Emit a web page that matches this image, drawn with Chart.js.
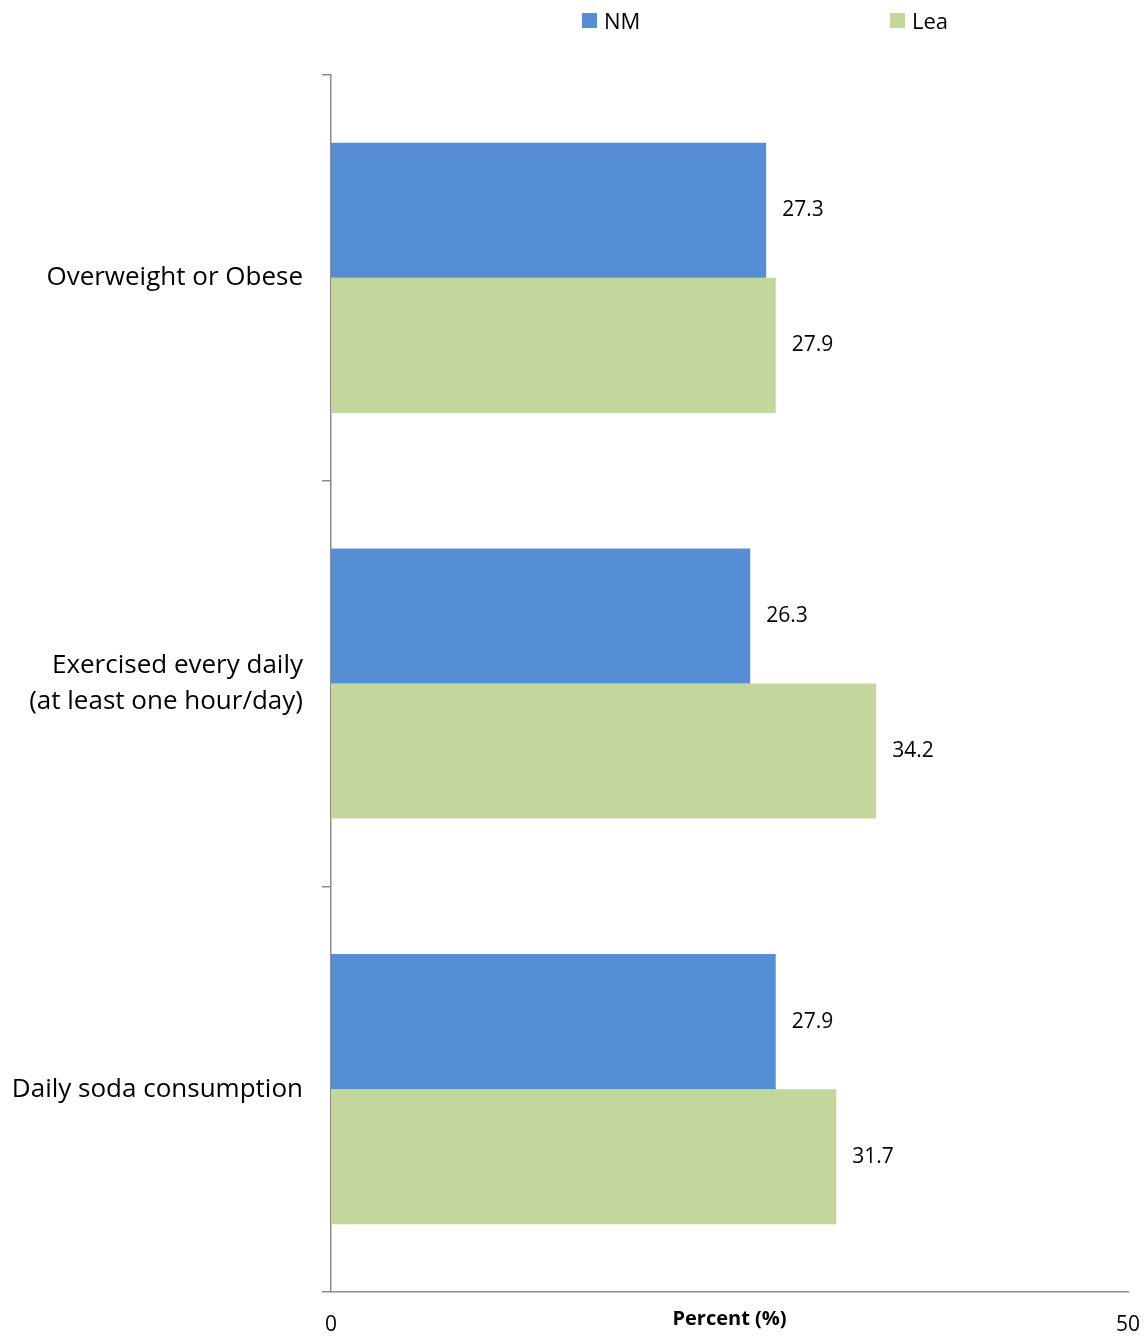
<!DOCTYPE html>
<html>
<head>
<meta charset="utf-8">
<script src="https://cdn.jsdelivr.net/npm/chart.js@4/dist/chart.umd.min.js"></script>
<style>
  body { margin: 0; background: #fff; }
  #wrap { position: relative; width: 1148px; height: 1336px; }
  #myChart { position: absolute; left: 0; top: 0; }
  .legend-item { position: absolute; top: 6px; font: 22px "Open Sans", sans-serif; color: #000; line-height: 28px; }
  .legend-item span.box { position: absolute; left: 0; top: 7px; width: 15px; height: 15px; }
  .legend-item span.txt { position: absolute; left: 22px; top: 0; white-space: nowrap; }
</style>
</head>
<body>
<div id="wrap">
  <canvas id="myChart" width="1148" height="1336"></canvas>
</div>
<script>
const categories = [
    'Overweight or Obese',
    ['Exercised every daily', '(at least one hour/day)'],
    'Daily soda consumption'
];
const seriesNames = ['NM', 'Lea'];
const nmValues = [27.3, 26.3, 27.9];
const leaValues = [27.9, 34.2, 31.7];
const xTicks = [0, 50];

const colors = ['#558ED5', '#C3D69B'];
const legendLeft = [582, 890];

// value labels to the right of each bar
const valueLabels = {
    id: 'valueLabels',
    afterDatasetsDraw(chart) {
        const ctx = chart.ctx;
        ctx.save();
        ctx.font = '21px "Open Sans", sans-serif';
        ctx.fillStyle = '#000';
        ctx.textAlign = 'left';
        ctx.textBaseline = 'middle';
        chart.data.datasets.forEach((ds, i) => {
            const meta = chart.getDatasetMeta(i);
            meta.data.forEach((bar, j) => {
                ctx.fillText(ds.data[j].toFixed(1), bar.x + 16, bar.y);
            });
        });
        ctx.restore();
    }
};

function buildLegend(chart) {
    const wrap = document.getElementById('wrap');
    chart.data.datasets.forEach((ds, i) => {
        const item = document.createElement('div');
        item.className = 'legend-item';
        item.style.left = legendLeft[i] + 'px';
        const box = document.createElement('span');
        box.className = 'box';
        box.style.background = ds.backgroundColor;
        const txt = document.createElement('span');
        txt.className = 'txt';
        txt.textContent = ds.label;
        item.appendChild(box);
        item.appendChild(txt);
        wrap.appendChild(item);
    });
}

function drawChart() {
    const ctx = document.getElementById('myChart').getContext('2d');
    const chart = new Chart(ctx, {
        type: 'bar',
        data: {
            labels: categories,
            datasets: [
                { label: seriesNames[0], data: nmValues, backgroundColor: colors[0] },
                { label: seriesNames[1], data: leaValues, backgroundColor: colors[1] }
            ]
        },
        options: {
            indexAxis: 'y',
            responsive: false,
            animation: false,
            categoryPercentage: 0.666,
            barPercentage: 1.0,
            layout: { padding: { top: 75, right: 0, bottom: 0, left: 0 } },
            plugins: {
                legend: { display: false },
                tooltip: { enabled: false }
            },
            scales: {
                x: {
                    min: xTicks[0],
                    max: xTicks[1],
                    afterBuildTicks(scale) {
                        scale.ticks = xTicks.map(v => ({ value: v }));
                    },
                    afterFit(scale) {
                        scale.height = 44;
                        scale.paddingLeft = 0;
                        scale.paddingRight = 20;
                    },
                    grid: { display: false, drawTicks: false },
                    border: { display: true, color: '#8c8c8c', width: 1.5 },
                    ticks: {
                        color: '#000',
                        padding: 20,
                        maxRotation: 0,
                        font: { family: 'Open Sans', size: 21 }
                    },
                    title: {
                        display: true,
                        text: 'Percent (%)',
                        color: '#000',
                        padding: { top: 0, bottom: 5 },
                        font: { family: 'Open Sans', size: 20, weight: 'bold' }
                    }
                },
                y: {
                    afterFit(scale) { scale.width = 331; },
                    grid: {
                        offset: true,
                        drawOnChartArea: false,
                        tickLength: 9,
                        color: '#8c8c8c',
                        lineWidth: 1.5
                    },
                    border: { display: true, color: '#8c8c8c', width: 1.5 },
                    ticks: {
                        color: '#000',
                        padding: 19,
                        crossAlign: 'near',
                        font: { family: 'Open Sans', size: 26, lineHeight: 1.4 }
                    }
                }
            }
        },
        plugins: [valueLabels]
    });
    buildLegend(chart);
}

document.addEventListener('DOMContentLoaded', drawChart);
</script>
</body>
</html>
